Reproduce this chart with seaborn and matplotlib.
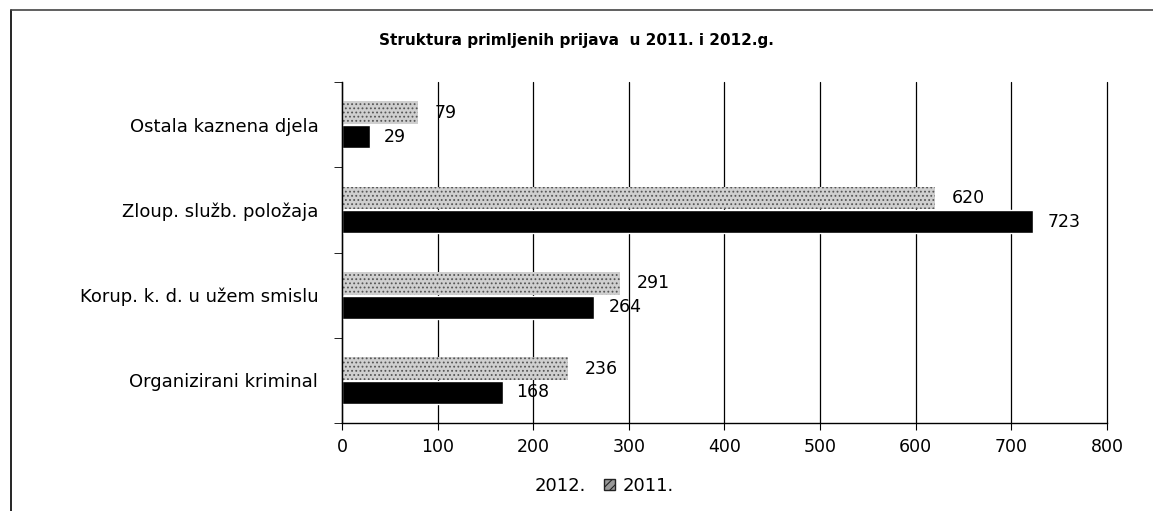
import matplotlib
matplotlib.use("Agg")
import matplotlib.pyplot as plt
import seaborn as sns
import pandas as pd
import numpy as np

categories = ["Ostala kaznena djela", "Zloup. služb. položaja",
              "Korup. k. d. u užem smislu", "Organizirani kriminal"]
values_2011 = [79, 620, 291, 236]
values_2012 = [29, 723, 264, 168]
years = ["2011.", "2012."]

df = pd.DataFrame({
    "kategorija": categories * 2,
    "broj": values_2011 + values_2012,
    "godina": [years[0]] * len(categories) + [years[1]] * len(categories),
})

sns.set_style("white")
plt.rcParams["font.family"] = ["DejaVu Sans"]
plt.rcParams["text.color"] = "black"
plt.rcParams["xtick.color"] = "black"
plt.rcParams["ytick.color"] = "black"
plt.rcParams["hatch.linewidth"] = 0.8

fig = plt.figure(figsize=(11.53, 5.11), dpi=100)
ax = fig.add_axes([0.2966, 0.172, 0.6634, 0.6675])

sns.barplot(data=df, y="kategorija", x="broj", hue="godina", order=categories,
            hue_order=years, palette={"2011.": "#cfcfcf", "2012.": "black"},
            orient="h", width=0.56, gap=0.04, ax=ax, legend=True)

for cont, y in zip(ax.containers, years):
    for bar in cont:
        if y == "2011.":
            bar.set_hatch("....")
            bar.set_edgecolor("#555555")
            bar.set_linewidth(0)
    ax.bar_label(cont, padding=12 if y == "2011." else 10, fontsize=12.5, color="black")

ax.set_xlim(0, 800)
ax.set_ylim(3.5, -0.5)
ax.set_xticks(np.arange(0, 801, 100))
ax.xaxis.grid(True, color="black", linewidth=0.9)
for gl in ax.get_xgridlines():
    gl.set_clip_on(False)
ax.set_axisbelow(True)
ax.set_xlabel("")
ax.set_ylabel("")
ax.tick_params(axis="x", labelsize=12.5, length=5, direction="out", bottom=True, pad=6)
ax.tick_params(axis="y", which="major", labelsize=13, length=0, pad=17)
ax.set_yticks(np.arange(-0.5, 3.6, 1), minor=True)
ax.tick_params(axis="y", which="minor", length=6, left=True)
for s in ["top", "right"]:
    ax.spines[s].set_visible(False)
for s in ["left", "bottom"]:
    ax.spines[s].set_color("black")
    ax.spines[s].set_linewidth(1.0)

fig.text(0.5, 1 - 40 / 511, "Struktura primljenih prijava  u 2011. i 2012.g.",
         fontsize=11, fontweight="bold", ha="center", va="center")

leg = ax.get_legend()
handles = leg.legend_handles
labels = [t.get_text() for t in leg.get_texts()]
leg.remove()
order = [1, 0]
leg = fig.legend([handles[i] for i in order], [labels[i] for i in order],
                 loc="center", bbox_to_anchor=(595 / 1153, 1 - 486 / 511), ncol=2,
                 frameon=False, fontsize=13, handlelength=0.6, handleheight=0.6,
                 columnspacing=1.0, handletextpad=0.4)
leg.legend_handles[0].set_visible(False)
leg.legend_handles[1].set_facecolor("#999999")
leg.legend_handles[1].set_edgecolor("#222222")
leg.legend_handles[1].set_hatch("////")

# outer frame
fig.add_artist(plt.Line2D([0.0095, 0.0095], [0.0, 0.98], color="black", lw=1.2,
                          transform=fig.transFigure))
fig.add_artist(plt.Line2D([0.0095, 1.0], [0.98, 0.98], color="#444444", lw=1.2,
                          transform=fig.transFigure))

fig.savefig("out.png", dpi=100)
